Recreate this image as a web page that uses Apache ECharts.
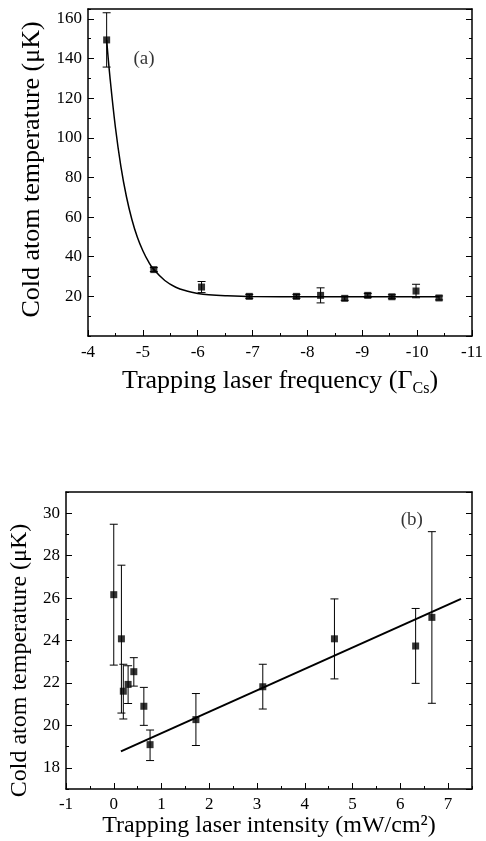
<!DOCTYPE html>
<html>
<head>
<meta charset="utf-8">
<script src="https://cdn.jsdelivr.net/npm/echarts@6/dist/echarts.min.js"></script>
<style>html,body{margin:0;padding:0;background:#fff;}#c{width:486px;height:841px;}</style>
</head>
<body>
<div id="c"></div>
<script>
// ---- Panel (a): temperature vs trapping laser frequency ----
const freqX = [-4.34, -5.2, -6.07, -6.94, -7.8, -8.24, -8.68, -9.1, -9.54, -9.98, -10.4];
const freqT = [149.4, 33.5, 24.7, 20.0, 20.0, 20.5, 19.0, 20.5, 19.8, 22.7, 19.2];
const freqErr = [13.7, 1.0, 2.8, 1.0, 1.0, 3.8, 1.0, 1.0, 1.0, 3.4, 1.0];
// fitted decay curve
const fitFreqX = [-4.34, -4.4, -4.5, -4.6, -4.7, -4.8, -4.9, -5.0, -5.1, -5.2, -5.4, -5.6, -5.8, -6.0, -6.2, -6.5, -7.0, -8.0, -9.0, -10.4];
const fitFreqT = [149.4, 130.7, 105.2, 85.5, 70.4, 58.8, 49.8, 43.0, 37.6, 33.5, 28.0, 24.6, 22.7, 21.5, 20.8, 20.3, 19.9, 19.8, 19.8, 19.8];
const freqTicksX = [-11, -4];
const freqTicksY = [0, 165];

// ---- Panel (b): temperature vs trapping laser intensity ----
const intX = [0.0, 0.16, 0.2, 0.3, 0.42, 0.63, 0.76, 1.72, 3.12, 4.62, 6.32, 6.66];
const intT = [26.16, 24.08, 21.61, 21.93, 22.53, 20.9, 19.09, 20.27, 21.82, 24.08, 23.74, 25.09];
const intLow = [22.84, 20.58, 20.3, 21.03, 21.85, 20.0, 18.34, 19.05, 20.77, 22.19, 21.98, 21.04];
const intHigh = [29.48, 27.55, 22.88, 22.81, 23.19, 21.79, 19.78, 21.5, 22.88, 25.96, 25.51, 29.13];
const fitIntX = [0.15, 7.27];
const fitIntT = [18.77, 25.96];
const intTicksX = [-1, 7.5];
const intTicksY = [17, 31];

const panelLabels = [{text: '(a)', x: -5.02, y: 139.7}, {text: '(b)', x: 6.24, y: 29.7}];

const FONT = 'Liberation Serif';
const BLACK = '#000';

function zip(a, b) { return a.map((v, i) => [v, b[i]]); }

function errSeries(xi, yi, data) {
  return {
    type: 'custom', xAxisIndex: xi, yAxisIndex: yi, z: 2,
    encode: {x: 0, y: [1, 2]},
    data: data,
    renderItem: function (params, api) {
      const x = api.value(0), lo = api.value(1), hi = api.value(2);
      const a = api.coord([x, lo]), b = api.coord([x, hi]);
      const w = 4;
      const st = {stroke: BLACK, lineWidth: 1};
      return {type: 'group', children: [
        {type: 'line', shape: {x1: a[0], y1: a[1], x2: b[0], y2: b[1]}, style: st},
        {type: 'line', shape: {x1: a[0] - w, y1: a[1], x2: a[0] + w, y2: a[1]}, style: st},
        {type: 'line', shape: {x1: b[0] - w, y1: b[1], x2: b[0] + w, y2: b[1]}, style: st}
      ]};
    }
  };
}

const lineOn = {show: true, onZero: false, lineStyle: {color: BLACK, width: 1.5}};
const lineOff = {show: false, onZero: false};
const labelStyle = {color: BLACK, fontFamily: FONT, fontSize: 17};
const nameStyleA = {color: BLACK, fontFamily: FONT, fontSize: 26};
const nameStyleB = {color: BLACK, fontFamily: FONT, fontSize: 24};
const majorTick = {inside: true, length: 6, lineStyle: {color: BLACK, width: 1}};
const minorTickAx = {inside: true, length: 3, lineStyle: {color: BLACK, width: 1}};

function mk(base) { return Object.assign({type: 'value', splitLine: {show: false}, axisLine: lineOn}, base); }

const xAxes = [
  // grid 0
  mk({gridIndex: 0, position: 'bottom', min: freqTicksX[0], max: freqTicksX[1], inverse: true, interval: 1,
      axisTick: majorTick,
      minorTick: {show: true, splitNumber: 2, length: 3, lineStyle: {color: BLACK, width: 1}},
      axisLabel: Object.assign({margin: 8}, labelStyle),
      name: 'Trapping laser frequency (Γ{sub|Cs})', nameLocation: 'middle', nameGap: 30,
      nameTextStyle: Object.assign({rich: {sub: {fontFamily: FONT, fontSize: 16, color: BLACK, padding: [15, 0, 0, 0]}}}, nameStyleA)}),
  mk({gridIndex: 0, position: 'top', min: freqTicksX[0], max: freqTicksX[1], inverse: true,
      axisTick: {show: false}, axisLabel: {show: false}}),
  // grid 1
  mk({gridIndex: 1, position: 'bottom', min: intTicksX[0], max: intTicksX[1], interval: 1,
      axisTick: majorTick,
      axisLabel: Object.assign({margin: 7, showMaxLabel: false}, labelStyle),
      name: 'Trapping laser intensity (mW/cm²)', nameLocation: 'middle', nameGap: 25,
      nameTextStyle: nameStyleB}),
  mk({gridIndex: 1, position: 'bottom', min: intTicksX[0], max: intTicksX[1], interval: 0.5,
      axisLine: lineOff, axisTick: minorTickAx, axisLabel: {show: false}}),
  mk({gridIndex: 1, position: 'top', min: intTicksX[0], max: intTicksX[1],
      axisTick: {show: false}, axisLabel: {show: false}})
];

const yAxes = [
  // grid 0
  mk({gridIndex: 0, position: 'left', min: freqTicksY[0], max: freqTicksY[1], interval: 20,
      axisTick: majorTick,
      axisLabel: Object.assign({margin: 6, showMinLabel: false, showMaxLabel: false}, labelStyle),
      name: 'Cold atom temperature (μK)', nameLocation: 'middle', nameGap: 43,
      nameTextStyle: Object.assign({padding: [0, 0, 0, 6]}, nameStyleA)}),
  mk({gridIndex: 0, position: 'left', min: freqTicksY[0], max: freqTicksY[1], interval: 10,
      axisLine: lineOff, axisTick: minorTickAx, axisLabel: {show: false}}),
  mk({gridIndex: 0, position: 'right', min: freqTicksY[0], max: freqTicksY[1], interval: 20,
      axisTick: majorTick, axisLabel: {show: false}}),
  mk({gridIndex: 0, position: 'right', min: freqTicksY[0], max: freqTicksY[1], interval: 10,
      axisLine: lineOff, axisTick: minorTickAx, axisLabel: {show: false}}),
  // grid 1
  mk({gridIndex: 1, position: 'left', min: intTicksY[0], max: intTicksY[1], splitNumber: 7, minInterval: 2, maxInterval: 2,
      axisTick: majorTick,
      axisLabel: Object.assign({margin: 6, showMinLabel: false, showMaxLabel: false}, labelStyle),
      name: 'Cold atom temperature (μK)', nameLocation: 'middle', nameGap: 34,
      nameTextStyle: Object.assign({padding: [0, 40, 0, 0]}, nameStyleB)}),
  mk({gridIndex: 1, position: 'left', min: intTicksY[0], max: intTicksY[1], interval: 1,
      axisLine: lineOff, axisTick: minorTickAx, axisLabel: {show: false}}),
  mk({gridIndex: 1, position: 'right', min: intTicksY[0], max: intTicksY[1], splitNumber: 7, minInterval: 2, maxInterval: 2,
      axisTick: majorTick, axisLabel: {show: false}}),
  mk({gridIndex: 1, position: 'right', min: intTicksY[0], max: intTicksY[1], interval: 1,
      axisLine: lineOff, axisTick: minorTickAx, axisLabel: {show: false}})
];

function textSeries(xi, yi, lab) {
  return {
    type: 'scatter', xAxisIndex: xi, yAxisIndex: yi, symbolSize: 1, z: 5,
    itemStyle: {color: 'transparent'},
    label: {show: true, position: 'inside', formatter: lab.text, color: BLACK, fontFamily: FONT, fontSize: 19},
    data: [[lab.x, lab.y]], silent: true
  };
}

const option = {
  animation: false,
  backgroundColor: '#fff',
  grid: [
    {left: 88, top: 9, width: 386, height: 327},
    {left: 66, top: 492, width: 406, height: 297}
  ],
  xAxis: xAxes,
  yAxis: yAxes,
  series: [
    errSeries(0, 0, freqX.map((x, i) => [x, freqT[i] - freqErr[i], freqT[i] + freqErr[i]])),
    {type: 'line', xAxisIndex: 0, yAxisIndex: 0, data: zip(fitFreqX, fitFreqT), smooth: 0.4, showSymbol: false,
     lineStyle: {color: BLACK, width: 1.5}, z: 3},
    {type: 'scatter', xAxisIndex: 0, yAxisIndex: 0, data: zip(freqX, freqT), symbol: 'rect', symbolSize: 7,
     itemStyle: {color: BLACK}, z: 4},
    textSeries(0, 0, panelLabels[0]),

    errSeries(2, 4, intX.map((x, i) => [x, intLow[i], intHigh[i]])),
    {type: 'line', xAxisIndex: 2, yAxisIndex: 4, data: zip(fitIntX, fitIntT), showSymbol: false,
     lineStyle: {color: BLACK, width: 2}, z: 3},
    {type: 'scatter', xAxisIndex: 2, yAxisIndex: 4, data: zip(intX, intT), symbol: 'rect', symbolSize: 7,
     itemStyle: {color: BLACK}, z: 4},
    textSeries(2, 4, panelLabels[1])
  ]
};

const chart = echarts.init(document.getElementById('c'), null, {renderer: 'canvas'});
chart.setOption(option);
</script>
</body>
</html>
